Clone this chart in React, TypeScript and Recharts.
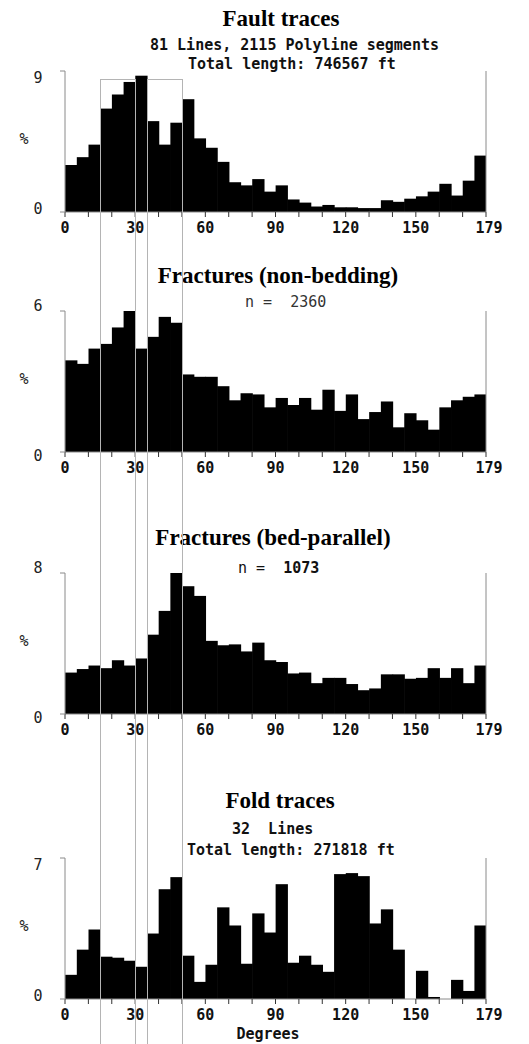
import React from 'react'
import { BarChart, Bar, XAxis, YAxis, ReferenceLine } from 'recharts'

// 5-degree bins, 0..180
const binStarts = [0, 5, 10, 15, 20, 25, 30, 35, 40, 45, 50, 55, 60, 65, 70, 75, 80, 85, 90, 95, 100, 105, 110, 115, 120, 125, 130, 135, 140, 145, 150, 155, 160, 165, 170, 175]
const degreeTicks = [0, 10, 20, 30, 40, 50, 60, 70, 80, 90, 100, 110, 120, 130, 140, 150, 160, 170, 180]

// percent of total per bin
const faultTraces = [3.0, 3.5, 4.3, 6.6, 7.5, 8.3, 8.7, 5.8, 4.3, 5.7, 7.2, 4.7, 4.1, 3.2, 1.9, 1.7, 2.1, 1.3, 1.7, 0.8, 0.6, 0.35, 0.45, 0.3, 0.3, 0.25, 0.25, 0.75, 0.65, 0.85, 1.0, 1.3, 1.8, 1.05, 2.0, 3.6]
const nonBedding = [3.9, 3.75, 4.4, 4.6, 5.3, 6.0, 4.4, 4.9, 5.75, 5.5, 3.3, 3.2, 3.2, 2.8, 2.2, 2.5, 2.45, 1.9, 2.3, 2.0, 2.3, 1.8, 2.65, 1.75, 2.45, 1.4, 1.7, 2.15, 1.05, 1.65, 1.35, 0.95, 1.9, 2.2, 2.35, 2.45]
const bedParallel = [2.35, 2.55, 2.75, 2.6, 3.05, 2.75, 3.15, 4.5, 5.85, 8.0, 7.25, 6.7, 4.15, 3.9, 3.95, 3.55, 4.05, 3.05, 2.95, 2.3, 2.35, 1.75, 2.05, 2.05, 1.7, 1.35, 1.45, 2.25, 2.25, 2.0, 2.05, 2.6, 2.05, 2.6, 1.75, 2.75]
const foldTraces = [1.2, 2.45, 3.45, 2.1, 2.05, 1.9, 1.6, 3.25, 5.45, 6.05, 2.15, 0.85, 1.7, 4.55, 3.65, 1.75, 4.25, 3.3, 5.7, 1.8, 2.15, 1.7, 1.35, 6.2, 6.25, 6.1, 3.75, 4.45, 2.45, 0, 1.4, 0.1, 0, 0.95, 0.4, 3.65]

// highlighted orientation windows (degrees)
const highlightRanges = [[15, 30], [35, 50]]
const highlightTopPct = 8.5 // in fault-traces panel units

const W = 529
const H = 1044
const PLOT_LEFT = 65
const PLOT_RIGHT = 486
const PLOT_W = PLOT_RIGHT - PLOT_LEFT
const PLOT_H = 141
const BIN_W = PLOT_W / 36
const MONO = '"DejaVu Sans Mono", monospace'
const SERIF = '"Liberation Serif", "Times New Roman", serif'
const AXIS = '#8a8a8a'

const xOf = (deg: number) => PLOT_LEFT + (deg / 180) * PLOT_W

function XTick(props: any) {
  const { x, y, payload } = props
  const v = payload.value
  if (v % 30 !== 0 && v !== 180) return <g />
  return (
    <text x={v === 180 ? x + 3 : x} y={y + 14} textAnchor="middle" fontFamily={MONO} fontWeight="bold" fontSize={15} fill="#111">
      {v === 180 ? 179 : v}
    </text>
  )
}

// solid bar spanning the whole 5-degree bin, so neighbouring bins touch
function SolidBar(props: any) {
  const { x, y, width, height } = props
  if (!height || height <= 0) return <g />
  const cx = x + width / 2
  return <rect x={cx - BIN_W / 2 - 0.3} y={y} width={BIN_W + 0.6} height={height} fill="#000" />
}

function Histogram({ top, values, yMax, maxDy, zeroDy }: { top: number; values: number[]; yMax: number; maxDy: number; zeroDy: number }) {
  const data = binStarts.map((b, i) => ({ mid: b + 2.5, pct: values[i] }))
  const mTop = 20
  const axisH = 28
  const YTick = (props: any) => {
    const { y, payload } = props
    const v = payload.value
    return (
      <text x={38} y={y + (v === 0 ? zeroDy : maxDy)} textAnchor="middle" dominantBaseline="central" fontFamily={MONO} fontSize={15} fill="#222">
        {v}
      </text>
    )
  }
  return (
    <div style={{ position: 'absolute', left: 0, top: top - mTop }}>
      <BarChart width={W} height={mTop + PLOT_H + axisH} data={data} margin={{ top: mTop, right: W - PLOT_RIGHT, bottom: 0, left: 0 }} barCategoryGap={0} barGap={0}>
        <XAxis dataKey="mid" type="number" domain={[0, 180]} ticks={degreeTicks} interval={0} height={axisH} tickSize={5} tick={(p: any) => <XTick {...p} />} axisLine={{ stroke: AXIS }} tickLine={{ stroke: '#333' }} allowDataOverflow />
        <YAxis type="number" domain={[0, yMax]} ticks={[0, yMax]} width={PLOT_LEFT} tickSize={5} tick={(p: any) => <YTick {...p} />} axisLine={{ stroke: AXIS }} tickLine={{ stroke: AXIS }} allowDataOverflow />
        <ReferenceLine x={180} stroke={AXIS} ifOverflow="visible" />
        <Bar dataKey="pct" fill="#000" barSize={BIN_W} isAnimationActive={false} shape={(p: any) => <SolidBar {...p} />} />
      </BarChart>
    </div>
  )
}

const panels = [
  { top: 71, values: faultTraces, yMax: 9, maxDy: 7, zeroDy: -3 },
  { top: 311, values: nonBedding, yMax: 6, maxDy: -5, zeroDy: 4 },
  { top: 573, values: bedParallel, yMax: 8, maxDy: -5, zeroDy: 4 },
  { top: 858, values: foldTraces, yMax: 7, maxDy: 7, zeroDy: -3 },
]

export default function App() {
  const hlTop = panels[0].top + (1 - highlightTopPct / panels[0].yMax) * PLOT_H
  const monoText = { fontFamily: MONO, fontWeight: 'bold' as const, fontSize: 15, fill: '#111', style: { whiteSpace: 'pre' as const } }
  const titleText = { fontFamily: SERIF, fontWeight: 'bold' as const, fontSize: 23, fill: '#000', textAnchor: 'middle' as const }
  return (
    <div style={{ position: 'absolute', left: 0, top: 0, width: W, height: H, background: '#fff', overflow: 'hidden' }}>
      {panels.map((p, i) => (
        <Histogram key={i} {...p} />
      ))}
      <svg width={W} height={H} style={{ position: 'absolute', left: 0, top: 0, pointerEvents: 'none' }}>
        <text x={281} y={26} {...titleText}>Fault traces</text>
        <text x={150} y={50} {...monoText}>81 Lines, 2115 Polyline segments</text>
        <text x={188} y={69} {...monoText}>Total length: 746567 ft</text>

        <text x={278} y={283} {...titleText}>Fractures (non-bedding)</text>
        <text x={245} y={307} {...monoText} fontWeight="normal" fill="#333">n =  2360</text>

        <text x={273} y={545} {...titleText}>Fractures (bed-parallel)</text>
        <text x={238} y={573} {...monoText}>
          <tspan fontWeight="normal">n =  </tspan>1073
        </text>

        <text x={280} y={808} {...titleText}>Fold traces</text>
        <text x={232} y={834} {...monoText}>32  Lines</text>
        <text x={187} y={855} {...monoText}>Total length: 271818 ft</text>
        <text x={268} y={1039} {...monoText} textAnchor="middle">Degrees</text>

        {panels.map((p, i) => (
          <text key={i} x={24} y={p.top + PLOT_H / 2 - 3} textAnchor="middle" dominantBaseline="central" fontFamily={MONO} fontSize={15} fill="#222">%</text>
        ))}

        {highlightRanges.map(([a, b], i) => (
          <rect key={i} x={Math.round(xOf(a)) + 0.5} y={Math.round(hlTop) + 0.5} width={Math.round(xOf(b)) - Math.round(xOf(a))} height={H} fill="none" stroke="#b4b4b4" strokeWidth={1} />
        ))}
      </svg>
    </div>
  )
}
